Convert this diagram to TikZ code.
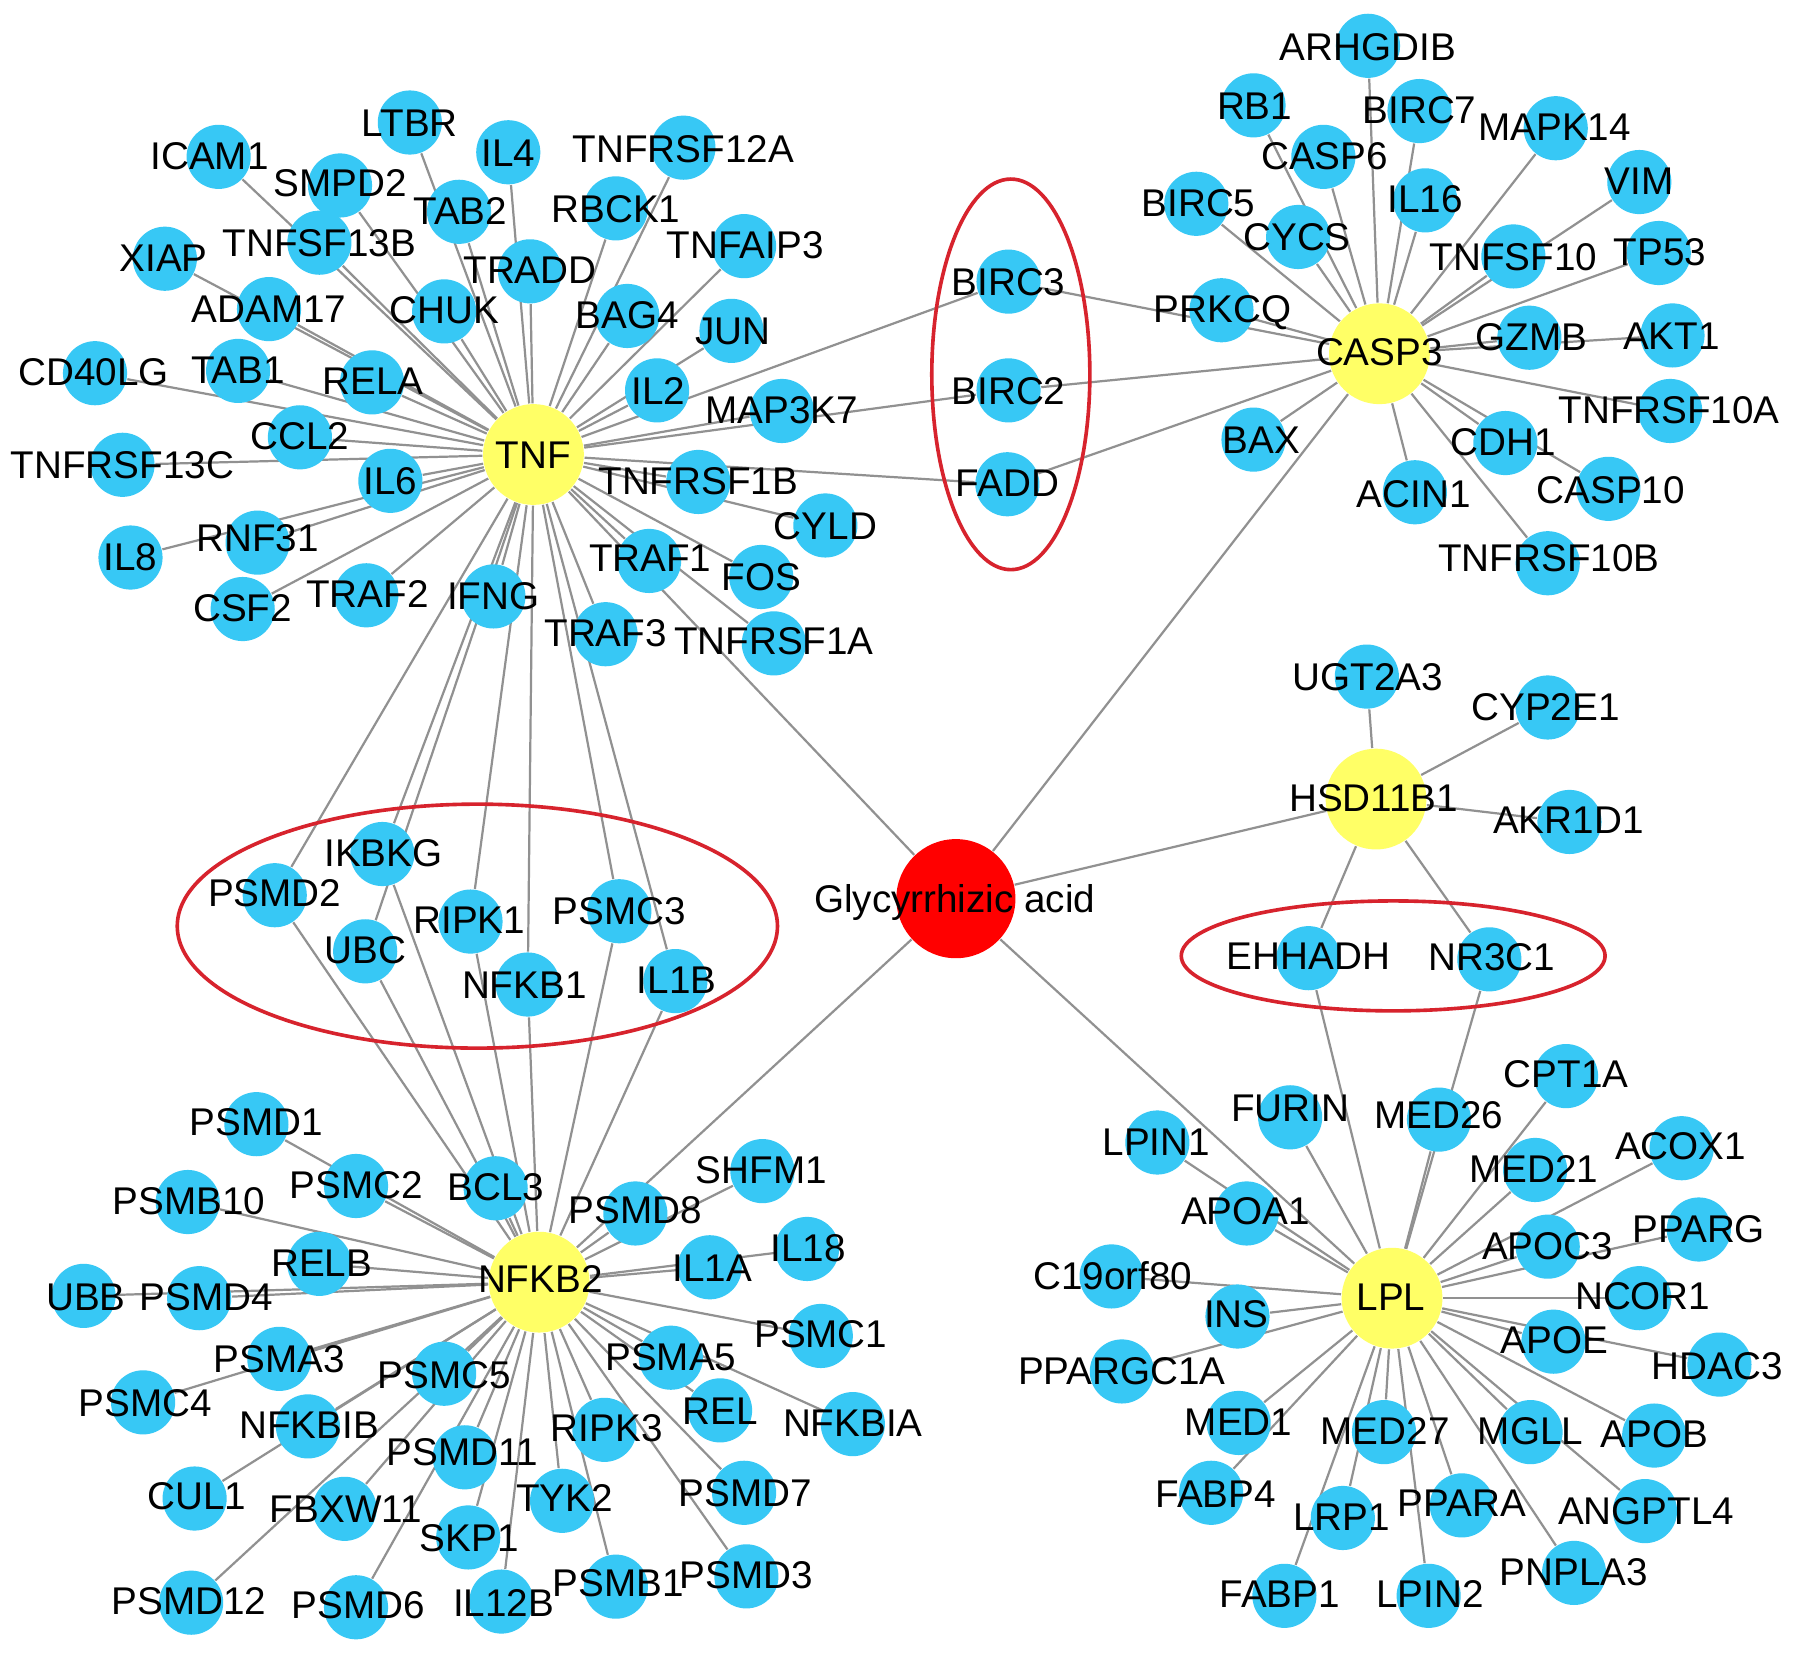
\documentclass[tikz,border=0pt]{standalone}
\usepackage{fontspec}
\setmainfont{Liberation Sans}
\pgfdeclarelayer{bg}
\pgfsetlayers{bg,main}
\definecolor{nodeblue}{RGB}{55,200,245}
\definecolor{hubyellow}{RGB}{255,255,102}
\definecolor{garedd}{RGB}{255,0,0}
\definecolor{edgegray}{RGB}{145,145,145}
\definecolor{ovalred}{RGB}{215,35,45}
\tikzset{
  gene/.style={circle, fill=nodeblue, draw=none, minimum size=0.56cm, inner sep=0pt},
  hub/.style={circle, fill=hubyellow, draw=none, minimum size=0.88cm, inner sep=0pt},
  drug/.style={circle, fill=garedd, draw=none, minimum size=1.04cm, inner sep=0pt},
  lbl/.style={font=\fontsize{9.6}{10}\selectfont, inner sep=0pt, anchor=base, text=black},
  edge/.style={draw=edgegray, line width=0.55pt},
  oval/.style={draw=ovalred, line width=0.9pt}
}
\def\genelist{ICAM1/191/137/183/136,LTBR/358/107/358/107,IL4/444/133/444/133,TNFRSF12A/597/129/597/130,SMPD2/297/162/297/160,TAB2/401/185/402/184,RBCK1/538/182/538/182,XIAP/144/226/143/225,TNFSF13B/279/212/279/212,TRADD/463/237/463/236,TNFAIP3/650/215/651/214,ADAM17/235/270/235/270,CHUK/388/272/388/271,BAG4/548/276/548/275,JUN/639/289/640/289,CD40LG/83/326/82/325,TAB1/208/324/208/323,RELA/325/334/326/333,IL2/574/341/575/341,MAP3K7/683/359/683/358,CCL2/262/382/262/381,TNFRSF13C/107/406/107/406,IL6/341/420/341/420,TNFRSF1B/610/421/610/420,CYLD/721/459/721/459,IL8/114/487/114/486,RNF31/225/474/225/470,CSF2/212/532/212/531,TRAF2/320/520/321/519,IFNG/431/521/431/520,TRAF1/567/490/568/487,FOS/665/504/665/504,TRAF3/529/554/529/553,TNFRSF1A/676/562/676/560,%
ARHGDIB/1195/40/1195/41,RB1/1095/92/1096/92,BIRC7/1240/97/1240/96,MAPK14/1359/112/1358/111,CASP6/1156/137/1157/136,VIM/1432/159/1432/158,BIRC5/1045/178/1047/177,IL16/1245/175/1245/174,CYCS/1134/207/1133/207,TNFSF10/1322/224/1322/224,TP53/1449/221/1450/220,PRKCQ/1067/271/1068/270,GZMB/1336/295/1338/294,AKT1/1461/293/1460/293,TNFRSF10A/1459/359/1458/358,BAX/1095/384/1102/384,CDH1/1315/387/1313/386,ACIN1/1236/430/1235/431,CASP10/1405/427/1407/428,TNFRSF10B/1352/492/1353/487,%
BIRC3/881/246/881/246,BIRC2/881/341/881/341,FADD/880/423/880/422,%
UGT2A3/1194/591/1195/591,CYP2E1/1352/618/1350/617,AKR1D1/1371/718/1370/716,EHHADH/1143/837/1143/835,NR3C1/1301/838/1303/836,%
FURIN/1127/976/1127/968,MED26/1257/978/1257/974,CPT1A/1368/940/1368/938,LPIN1/1011/998/1010/997,ACOX1/1469/1003/1468/1001,MED21/1341/1022/1340/1021,APOA1/1089/1060/1088/1058,PPARG/1484/1074/1484/1073,APOC3/1352/1089/1352/1088,C19orf80/971/1115/972/1114,NCOR1/1432/1134/1435/1132,INS/1081/1150/1080/1148,APOE/1357/1172/1358/1170,HDAC3/1502/1192/1500/1193,PPARGC1A/980/1198/980/1197,MED1/1082/1243/1082/1242,MED27/1209/1251/1210/1250,MGLL/1337/1251/1337/1250,APOB/1445/1254/1445/1252,FABP4/1058/1304/1062/1305,LRP1/1173/1326/1172/1325,PPARA/1277/1315/1277/1313,ANGPTL4/1437/1320/1438/1320,PNPLA3/1375/1374/1375/1373,FABP1/1122/1394/1118/1392,LPIN2/1248/1394/1249/1392,%
PSMD1/224/982/224/980,PSMC2/311/1036/311/1035,BCL3/433/1038/433/1037,PSMB10/164/1050/165/1049,RELB/279/1104/281/1103,UBB/73/1132/75/1133,PSMD4/174/1134/180/1133,PSMA3/244/1187/244/1187,PSMC5/388/1200/388/1201,PSMC4/125/1225/127/1225,NFKBIB/269/1246/270/1245,PSMD11/406/1273/404/1268,CUL1/170/1309/172/1307,FBXW11/301/1318/302/1318,SKP1/409/1343/410/1343,PSMD12/167/1400/165/1398,PSMD6/311/1404/313/1402,IL12B/438/1399/440/1400,PSMD8/555/1060/555/1057,SHFM1/666/1023/665/1022,IL1A/620/1107/622/1107,IL18/705/1091/706/1090,PSMC1/717/1167/717/1165,PSMA5/586/1186/586/1185,REL/629/1232/629/1232,NFKBIA/745/1244/745/1243,RIPK3/528/1249/530/1247,TYK2/491/1311/493/1308,PSMD7/650/1304/651/1304,PSMB1/538/1386/540/1383,PSMD3/652/1377/652/1376,%
IKBKG/334/746/335/745,PSMD2/240/782/240/780,UBC/319/831/319/830,RIPK1/411/805/410/803,NFKB1/461/860/458/860,PSMC3/541/796/541/796,IL1B/590/857/591/856}
\begin{document}
\begin{tikzpicture}[x=0.01cm,y=-0.01cm]
\useasboundingbox (0,0) rectangle (1568,1447);
\begin{pgfonlayer}{bg}
\fill[white] (0,0) rectangle (1568,1447);
\end{pgfonlayer}
% ovals
\draw[oval] (883,327) ellipse [x radius=0.69cm, y radius=1.705cm];
\draw[oval] (417,809) ellipse [x radius=2.62cm, y radius=1.065cm];
\draw[oval] (1217,835) ellipse [x radius=1.85cm, y radius=0.48cm];
% circles
\foreach \n/\x/\y/\lx/\ly in \genelist {\node[gene] (\n) at (\x,\y) {};}
\node[hub] (TNF) at (466,397) {};
\node[hub] (CASP3) at (1205,309) {};
\node[hub] (HSD11B1) at (1202,698) {};
\node[hub] (LPL) at (1216,1134) {};
\node[hub] (NFKB2) at (471,1120) {};
\node[drug] (GA) at (835,785) {};
% edges
\begin{pgfonlayer}{bg}
\foreach \b in {ICAM1,LTBR,IL4,TNFRSF12A,SMPD2,TAB2,RBCK1,XIAP,TNFSF13B,TRADD,TNFAIP3,ADAM17,CHUK,BAG4,JUN,CD40LG,TAB1,RELA,IL2,MAP3K7,CCL2,TNFRSF13C,IL6,TNFRSF1B,CYLD,IL8,RNF31,CSF2,TRAF2,IFNG,TRAF1,FOS,TRAF3,TNFRSF1A,BIRC3,BIRC2,FADD,GA,IKBKG,PSMD2,UBC,RIPK1,NFKB1,PSMC3,IL1B}
  {\draw[edge] (TNF) -- (\b);}
\foreach \b in {ARHGDIB,RB1,BIRC7,MAPK14,CASP6,VIM,BIRC5,IL16,CYCS,TNFSF10,TP53,PRKCQ,GZMB,AKT1,TNFRSF10A,BAX,CDH1,ACIN1,CASP10,TNFRSF10B,BIRC3,BIRC2,FADD,GA}
  {\draw[edge] (CASP3) -- (\b);}
\foreach \b in {UGT2A3,CYP2E1,AKR1D1,EHHADH,NR3C1,GA}
  {\draw[edge] (HSD11B1) -- (\b);}
\foreach \b in {EHHADH,NR3C1,FURIN,MED26,CPT1A,LPIN1,ACOX1,MED21,APOA1,PPARG,APOC3,C19orf80,NCOR1,INS,APOE,HDAC3,PPARGC1A,MED1,MED27,MGLL,APOB,FABP4,LRP1,PPARA,ANGPTL4,PNPLA3,FABP1,LPIN2,GA}
  {\draw[edge] (LPL) -- (\b);}
\foreach \b in {PSMD1,PSMC2,BCL3,PSMB10,RELB,UBB,PSMD4,PSMA3,PSMC5,PSMC4,NFKBIB,PSMD11,CUL1,FBXW11,SKP1,PSMD12,PSMD6,IL12B,PSMD8,SHFM1,IL1A,IL18,PSMC1,PSMA5,REL,NFKBIA,RIPK3,TYK2,PSMD7,PSMB1,PSMD3,IKBKG,PSMD2,UBC,RIPK1,NFKB1,PSMC3,IL1B,GA}
  {\draw[edge] (NFKB2) -- (\b);}
\end{pgfonlayer}
% labels
\foreach \n/\x/\y/\lx/\ly in \genelist {\node[lbl] (\n-t) at (\lx,\ly+12) {\n};}
\node[lbl] (TNF-t) at (466,409) {TNF};
\node[lbl] (CASP3-t) at (1205,319) {CASP3};
\node[lbl] (HSD11B1-t) at (1200,709) {HSD11B1};
\node[lbl] (LPL-t) at (1215,1145) {LPL};
\node[lbl] (NFKB2-t) at (472,1129) {NFKB2};
\node[lbl] (GA-t) at (834,797) {Glycyrrhizic acid};
\end{tikzpicture}
\end{document}
